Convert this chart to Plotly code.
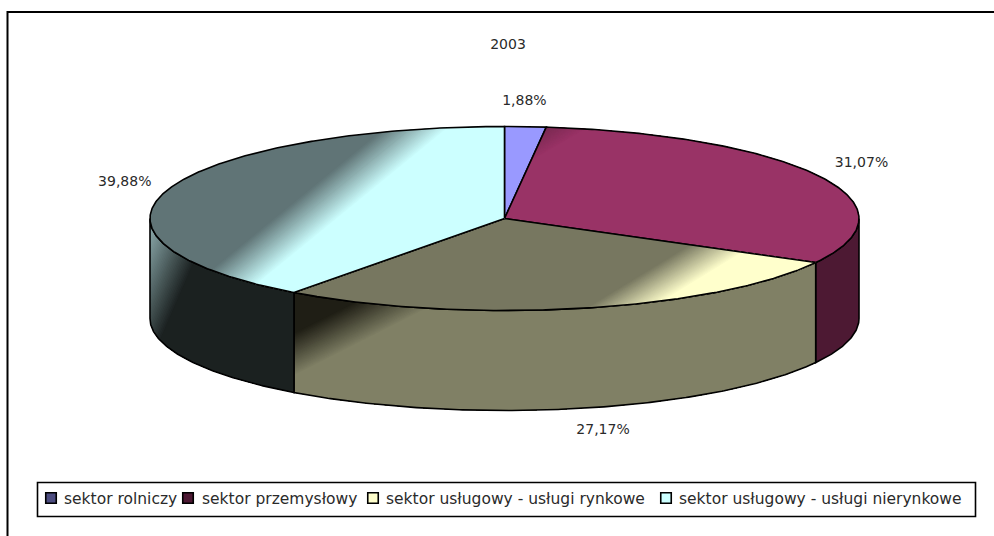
import numpy as np
import plotly.graph_objects as go

title = "2003"
categories = ["sektor rolniczy", "sektor przemysłowy",
              "sektor usługowy - usługi rynkowe", "sektor usługowy - usługi nierynkowe"]
values = [1.88, 31.07, 27.17, 39.88]
top_colors = ["#9999FF", "#993366", "#FFFFCC", "#CCFFFF"]
legend_colors = ["#4D4D80", "#4D1933", "#FFFFCC", "#CCFFFF"]
label_offsets = [(-1, -25), (42, -13), (22, 22), (-43, -7)]
legend_key_x = [51, 188, 373, 666]
legend_text_x = [62, 200, 384, 677]

FONT = "DejaVu Sans"
TEXT = "#2A2A2A"
CX, CY, RX, RY, DEPTH = 504.5, 218.5, 354.5, 92.0, 100.0

# gradients: (normal, [(t, colour), ...]) per region
top_grad = [
    None,
    ((0.5, 0.85), [(381, "#7A2A52"), (402, "#993366")]),
    ((0.52, 0.85), [(566, "#777760"), (600, "#FFFFCC")]),
    ((0.63, 0.77), [(340, "#607476"), (380, "#CCFFFF")]),
]
wall_grad = [
    None,
    None,
    ((0.45, 0.89), [(428, "#1F1E15"), (466, "#808065")]),
    ((0.92, 0.40), [(232, "#84A0A2"), (283, "#1B2120")]),
]
wall_flat = ["#4D4D80", "#4D1933", "#808065", "#1B2120"]


def pt(deg, dy=0.0):
    a = np.radians(deg)
    return CX + RX * np.sin(a), CY - RY * np.cos(a) + dy


def arc(a, b, dy=0.0):
    n = max(2, int(abs(b - a) * 2) + 1)
    return [pt(d, dy) for d in np.linspace(a, b, n)]


def clip(poly, n, t):
    """Keep the part of poly where n.p >= t."""
    out = []
    for i, p in enumerate(poly):
        q = poly[(i + 1) % len(poly)]
        dp = n[0] * p[0] + n[1] * p[1] - t
        dq = n[0] * q[0] + n[1] * q[1] - t
        if dp >= 0:
            out.append(p)
        if dp * dq < 0:
            s = dp / (dp - dq)
            out.append((p[0] + s * (q[0] - p[0]), p[1] + s * (q[1] - p[1])))
    return out


def rgb(h):
    return np.array([int(h[i:i + 2], 16) for i in (1, 3, 5)], float)


fig = go.Figure()


def fill(poly, color):
    if len(poly) < 3:
        return
    xs, ys = zip(*poly)
    fig.add_trace(go.Scatter(x=list(xs) + [xs[0]], y=list(ys) + [ys[0]], mode="lines",
                             fill="toself", fillcolor=color, line=dict(width=0),
                             hoverinfo="skip", showlegend=False))


def paint(poly, grad, flat):
    if grad is None:
        fill(poly, flat)
        return
    n, stops = grad
    (t0, c0), (t1, c1) = stops
    c0, c1 = rgb(c0), rgb(c1)
    steps = 32
    fill(poly, "rgb(%d,%d,%d)" % tuple(c0))
    for k in range(1, steps + 1):
        f = k / steps
        c = c0 + (c1 - c0) * f
        fill(clip(poly, n, t0 + (t1 - t0) * f), "rgb(%d,%d,%d)" % tuple(c))


def outline(poly, closed=True, w=1.6):
    xs, ys = zip(*poly)
    xs, ys = list(xs), list(ys)
    if closed:
        xs.append(xs[0]); ys.append(ys[0])
    fig.add_trace(go.Scatter(x=xs, y=ys, mode="lines", line=dict(color="black", width=w),
                             hoverinfo="skip", showlegend=False))


edges = np.concatenate([[0], np.cumsum(values)]) / sum(values) * 360

# side walls (front half only)
for i in range(len(values)):
    a, b = max(edges[i], 90), min(edges[i + 1], 270)
    if b <= a:
        continue
    poly = arc(a, b) + arc(b, a, DEPTH)
    paint(poly, wall_grad[i], wall_flat[i])
    outline(poly)

# top faces
for i in range(len(values)):
    poly = [(CX, CY)] + arc(edges[i], edges[i + 1])
    paint(poly, top_grad[i], top_colors[i])
    outline(poly)

# percentage labels
mids = (edges[:-1] + edges[1:]) / 2
lab_x, lab_y, lab_t = [], [], []
for i, m in enumerate(mids):
    dy = DEPTH if 90 < m < 270 else 0
    x, y = pt(m, dy)
    lab_x.append(x + label_offsets[i][0])
    lab_y.append(y + label_offsets[i][1])
    lab_t.append(f"{values[i]:.2f}%".replace(".", ","))
fig.add_trace(go.Scatter(x=lab_x, y=lab_y, text=lab_t, mode="text", textposition="middle center",
                         textfont=dict(family=FONT, size=14, color=TEXT),
                         hoverinfo="skip", showlegend=False))

# legend keys
fig.add_trace(go.Scatter(x=legend_key_x, y=[498] * 4, mode="markers", hoverinfo="skip", showlegend=False,
                         marker=dict(symbol="square", size=10.5, color=legend_colors,
                                     line=dict(color="black", width=1.6))))

legend_labels = [
    dict(x=x, y=499, xref="x", yref="y", text=name, showarrow=False, xanchor="left", yanchor="middle",
         font=dict(family=FONT, size=15.5, color=TEXT))
    for x, name in zip(legend_text_x, categories)
]

fig.update_layout(
    width=994, height=536, margin=dict(l=0, r=0, t=0, b=0),
    paper_bgcolor="white", plot_bgcolor="white", showlegend=False,
    title=dict(text=title, x=508 / 994, y=1 - 44 / 536, xanchor="center", yanchor="middle",
               font=dict(family=FONT, size=14, color=TEXT)),
    xaxis=dict(range=[0, 994], visible=False, fixedrange=True),
    yaxis=dict(range=[536, 0], visible=False, fixedrange=True),
    annotations=legend_labels,
    shapes=[
        dict(type="rect", xref="x", yref="y", x0=37.5, x1=975.5, y0=482.5, y1=516.5, layer="below",
             line=dict(color="black", width=1.6), fillcolor="white"),
        dict(type="line", xref="paper", yref="paper", x0=7.5 / 994, x1=1, y0=1 - 12 / 536, y1=1 - 12 / 536,
             line=dict(color="black", width=2)),
        dict(type="line", xref="paper", yref="paper", x0=7.5 / 994, x1=7.5 / 994, y0=0, y1=1 - 11 / 536,
             line=dict(color="black", width=2)),
    ],
)
fig.write_html("out.html", config={"displayModeBar": False},
               post_script="document.body.style.margin='0';document.body.style.overflow='hidden';")
